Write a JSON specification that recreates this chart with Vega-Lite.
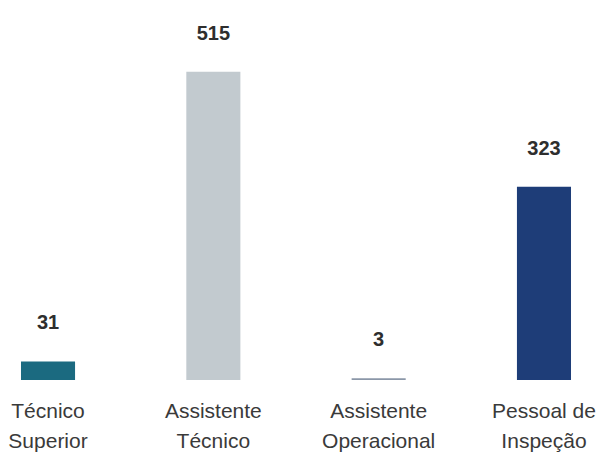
{
  "$schema": "https://vega.github.io/schema/vega-lite/v6.json",
  "width": 592,
  "height": 380,
  "autosize": "none",
  "padding": {"left": 0, "top": 0, "right": 11, "bottom": 75},
  "background": "white",
  "config": {"view": {"stroke": null}, "font": "Liberation Sans"},
  "data": {
    "values": [
      {"cat": "Técnico Superior", "label": "Técnico\nSuperior", "value": 31, "color": "#1b6a80"},
      {"cat": "Assistente Técnico", "label": "Assistente\nTécnico", "value": 515, "color": "#c2cacf"},
      {"cat": "Assistente Operacional", "label": "Assistente\nOperacional", "value": 3, "color": "#8b97a8"},
      {"cat": "Pessoal de Inspeção", "label": "Pessoal de\nInspeção", "value": 323, "color": "#1e3d78"}
    ]
  },
  "encoding": {
    "x": {
      "field": "label",
      "type": "nominal",
      "sort": null,
      "scale": {"paddingInner": 0.673, "paddingOuter": 0.127},
      "axis": {
        "title": null,
        "domain": false,
        "ticks": false,
        "labelAngle": 0,
        "labelExpr": "split(datum.label, '\\n')",
        "labelFontSize": 21,
        "labelColor": "#3a3a3a",
        "labelPadding": 20,
        "labelLineHeight": 30,
        "labelFont": "Liberation Sans",
        "labelOverlap": false,
        "labelBound": false
      }
    },
    "y": {
      "field": "value",
      "type": "quantitative",
      "scale": {"domain": [0, 635], "nice": false},
      "axis": null
    }
  },
  "layer": [
    {
      "mark": {"type": "bar"},
      "encoding": {
        "color": {"field": "color", "type": "nominal", "scale": null}
      }
    },
    {
      "mark": {"type": "text", "baseline": "bottom", "dy": -28, "fontSize": 20, "fontWeight": "bold", "color": "#2e2e2e", "font": "Liberation Sans"},
      "encoding": {"text": {"field": "value", "type": "quantitative"}}
    }
  ]
}
